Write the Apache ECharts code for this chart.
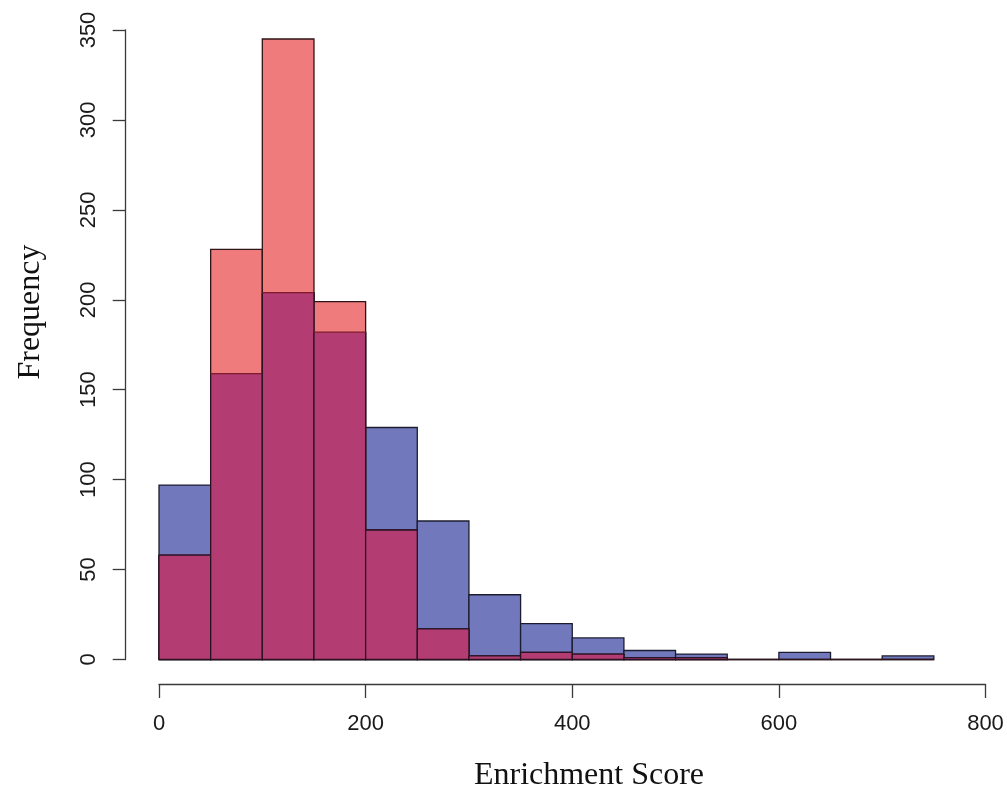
<!DOCTYPE html>
<html>
<head>
<meta charset="utf-8">
<script src="https://cdn.jsdelivr.net/npm/echarts@6/dist/echarts.min.js"></script>
<style>
  html, body { margin: 0; padding: 0; background: #ffffff; }
  #chart { width: 1007px; height: 793px; }
</style>
</head>
<body>
<div id="chart"></div>
<script>
// Histogram bins: lower edge of each 50-wide bin of the enrichment score
var binStarts = [0, 50, 100, 150, 200, 250, 300, 350, 400, 450, 500, 550, 600, 650, 700];
var binWidth = 50;
// Counts per bin for the two overlaid groups
var blueCounts = [97, 159, 204, 182, 129, 77, 36, 20, 12, 5, 3, 0, 4, 0, 2];
var redCounts  = [58, 228, 345, 199, 72, 17, 2, 4, 3, 1, 1, 0, 0, 0, 0];
// Axis ticks
var xTicks = [0, 200, 400, 600, 800];
var yTicks = [0, 50, 100, 150, 200, 250, 300, 350];

var BLUE = '#7179bc';
var RED = '#f07b7c';
var PURPLE = '#b33d73';

function binData(counts) {
  return binStarts.map(function (s, i) { return [s, s + binWidth, counts[i]]; });
}
var overlapCounts = blueCounts.map(function (b, i) { return Math.min(b, redCounts[i]); });

// Plain histogram bar: rectangle from the baseline up to the count
function barRenderer(fill, stroke) {
  return function (params, api) {
    var p0 = api.coord([api.value(0), 0]);
    var p1 = api.coord([api.value(1), api.value(2)]);
    return {
      type: 'rect',
      shape: { x: p0[0], y: p1[1], width: p1[0] - p0[0], height: p0[1] - p1[1] },
      style: { fill: fill, stroke: stroke, lineWidth: 1.3 }
    };
  };
}

// Where both groups overlap the colours mix into purple
function overlapRenderer(params, api) {
  var i = params.dataIndex;
  var p0 = api.coord([api.value(0), 0]);
  var p1 = api.coord([api.value(1), api.value(2)]);
  var x0 = p0[0], x1 = p1[0], yb = p0[1], yt = p1[1];
  if (api.value(2) <= 0) return null;
  var topColor = redCounts[i] > blueCounts[i] ? '#7d1a2c' : '#2a1228';
  return {
    type: 'group',
    children: [
      { type: 'rect', shape: { x: x0, y: yt, width: x1 - x0, height: yb - yt },
        style: { fill: PURPLE } },
      { type: 'line', shape: { x1: x0, y1: yb, x2: x0, y2: yt },
        style: { stroke: '#2a1222', lineWidth: 1.3 } },
      { type: 'line', shape: { x1: x1, y1: yb, x2: x1, y2: yt },
        style: { stroke: '#2a1222', lineWidth: 1.3 } },
      { type: 'line', shape: { x1: x0, y1: yt, x2: x1, y2: yt },
        style: { stroke: topColor, lineWidth: 1.3 } },
      { type: 'line', shape: { x1: x0, y1: yb, x2: x1, y2: yb },
        style: { stroke: '#2a1222', lineWidth: 1.3 } }
    ]
  };
}

var axisTextStyle = { fontFamily: 'Liberation Sans', fontSize: 22, color: '#1a1a1a' };
var axisLineStyle = { color: '#3a3a3a', width: 1.3 };

var chart = echarts.init(document.getElementById('chart'), null, { renderer: 'canvas' });
chart.setOption({
  animation: false,
  backgroundColor: '#ffffff',
  grid: { left: 159, right: 21.5, top: 30, bottom: 133.5, containLabel: false },
  xAxis: {
    type: 'value', min: 0, max: 800, interval: 200,
    offset: 24.5,
    axisLine: { show: true, onZero: false, lineStyle: axisLineStyle },
    axisTick: { show: true, length: 14, lineStyle: axisLineStyle },
    axisLabel: Object.assign({ margin: 29, formatter: function (v) { return xTicks.indexOf(v) >= 0 ? String(v) : ''; } }, axisTextStyle),
    splitLine: { show: false }
  },
  yAxis: {
    type: 'value', min: 0, max: 350, interval: 50,
    offset: 33.3,
    axisLine: { show: true, onZero: false, lineStyle: axisLineStyle },
    axisTick: { show: true, length: 13, lineStyle: axisLineStyle },
    axisLabel: Object.assign({ margin: 26, rotate: 90, formatter: function (v) { return yTicks.indexOf(v) >= 0 ? String(v) : ''; } }, axisTextStyle),
    splitLine: { show: false }
  },
  graphic: [
    { type: 'text', x: 589, y: 776,
      style: { text: 'Enrichment Score', font: '32px "Liberation Serif"', fill: '#111111',
               textAlign: 'center', textVerticalAlign: 'middle' } },
    { type: 'text', x: 31, y: 312, rotation: Math.PI / 2,
      style: { text: 'Frequency', font: '32px "Liberation Serif"', fill: '#111111',
               textAlign: 'center', textVerticalAlign: 'middle' } }
  ],
  series: [
    { type: 'custom', name: 'blue', renderItem: barRenderer(BLUE, '#1c1c30'),
      encode: { x: [0, 1], y: 2 }, data: binData(blueCounts), z: 2 },
    { type: 'custom', name: 'red', renderItem: barRenderer(RED, '#2e1416'),
      encode: { x: [0, 1], y: 2 }, data: binData(redCounts), z: 3 },
    { type: 'custom', name: 'overlap', renderItem: overlapRenderer,
      encode: { x: [0, 1], y: 2 }, data: binData(overlapCounts), z: 4 }
  ]
});
</script>
</body>
</html>
